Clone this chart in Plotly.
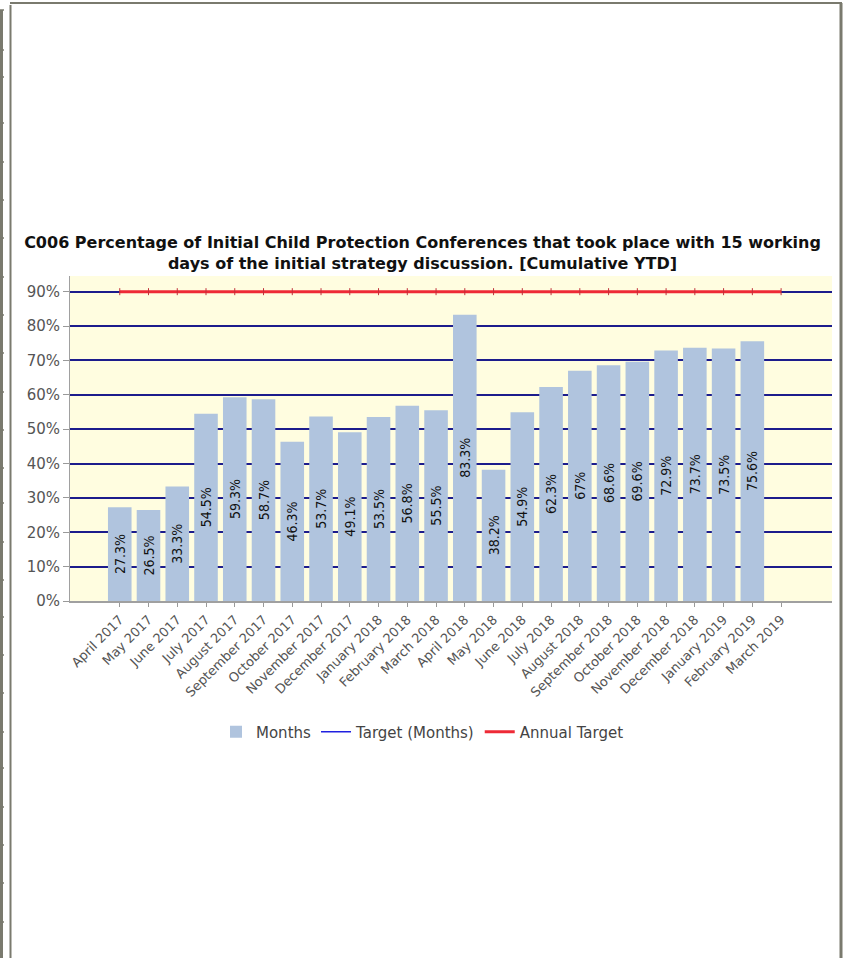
"""C006 initial child protection conferences chart."""

import plotly.graph_objects as go

months = [
    "April 2017", "May 2017", "June 2017", "July 2017", "August 2017",
    "September 2017", "October 2017", "November 2017", "December 2017",
    "January 2018", "February 2018", "March 2018", "April 2018", "May 2018",
    "June 2018", "July 2018", "August 2018", "September 2018", "October 2018",
    "November 2018", "December 2018", "January 2019", "February 2019", "March 2019",
]
monthly_values = [
    27.3, 26.5, 33.3, 54.5, 59.3, 58.7, 46.3, 53.7, 49.1, 53.5, 56.8, 55.5,
    83.3, 38.2, 54.9, 62.3, 67, 68.6, 69.6, 72.9, 73.7, 73.5, 75.6, None,
]
target_months = [90] * 24
annual_target = [90] * 24
y_ticks = [0, 10, 20, 30, 40, 50, 60, 70, 80, 90]

W, H = 845, 958
ML, MR, MT, MB = 70, 13, 276, 357
PW, PH = W - ML - MR, H - MT - MB
FONT = "DejaVu Sans"
FRAME = "#7a7a6e"


def px(x):
    return (x - ML) / PW


def py(y):
    return (H - MB - y) / PH


labels = [f"{v:g}%" if v is not None else "" for v in monthly_values]

fig = go.Figure()

fig.add_trace(go.Bar(
    name="Months",
    x=months,
    y=monthly_values,
    text=labels,
    textposition="inside",
    insidetextanchor="middle",
    textangle=-90,
    constraintext="none",
    textfont=dict(family="DejaVu Sans Condensed, DejaVu Sans", size=14, color="#111111"),
    marker=dict(color="#b0c4de", line=dict(width=0)),
    width=0.82,
    hoverinfo="x+y",
))

fig.add_trace(go.Scatter(
    name="Target (Months)",
    x=months,
    y=target_months,
    mode="lines",
    line=dict(color="#2020e0", width=1.5),
    hoverinfo="x+y",
))

fig.add_trace(go.Scatter(
    name="Annual Target",
    x=months,
    y=annual_target,
    mode="lines",
    line=dict(color="#ee2a36", width=3),
    hoverinfo="x+y",
))

# little tick marks along the annual target line
fig.add_trace(go.Scatter(
    x=months,
    y=annual_target,
    mode="markers",
    marker=dict(symbol="line-ns", size=5, line=dict(width=1, color="#c0303a")),
    showlegend=False,
    hoverinfo="skip",
))

# page frame around the chart
shapes = []
line = dict(color=FRAME, width=2)
shapes.append(dict(type="line", xref="paper", yref="paper",
                   x0=px(10), x1=px(842), y0=py(3), y1=py(3), line=line))
shapes.append(dict(type="line", xref="paper", yref="paper",
                   x0=px(841), x1=px(841), y0=py(3), y1=py(958), line=dict(color=FRAME, width=3)))
shapes.append(dict(type="line", xref="paper", yref="paper",
                   x0=px(10.5), x1=px(10.5), y0=py(5), y1=py(958), line=line))
shapes.append(dict(type="line", xref="paper", yref="paper",
                   x0=px(1.5), x1=px(1.5), y0=py(10), y1=py(958), line=dict(color=FRAME, width=3)))
for my in [10, 50, 77, 123, 162, 200, 238, 277, 315, 353, 392, 430, 468,
           503, 542, 580, 617, 655, 693, 732, 768, 807, 845, 883, 922]:
    shapes.append(dict(type="line", xref="paper", yref="paper",
                       x0=px(0), x1=px(4), y0=py(my), y1=py(my),
                       line=dict(color=FRAME, width=1.5)))

fig.update_layout(
    width=W,
    height=H,
    margin=dict(l=ML, r=MR, t=MT, b=MB),
    paper_bgcolor="white",
    plot_bgcolor="#fffde0",
    font=dict(family=FONT, size=15, color="#444444"),
    title=dict(
        text="C006 Percentage of Initial Child Protection Conferences that took place with 15 working"
             "<br>days of the initial strategy discussion. [Cumulative YTD]",
        font=dict(family=FONT, size=16, color="#111111", weight="bold"),
        xref="container", x=0.5, xanchor="center",
        yref="container", y=1 - 248 / H, yanchor="middle",
    ),
    xaxis=dict(
        type="category",
        range=[-1.73, 24.77],
        tickangle=-45,
        tickfont=dict(family=FONT, size=13, color="#555555"),
        ticks="outside", ticklen=4, tickcolor="#999999",
        showline=True, linecolor="#a0a0a0", linewidth=2,
        showgrid=False,
    ),
    yaxis=dict(
        range=[0, 94.56],
        tickvals=y_ticks,
        ticktext=[f"{t}%" for t in y_ticks],
        tickfont=dict(family=FONT, size=15, color="#555555"),
        ticks="outside", ticklen=6, tickcolor="#999999",
        showline=True, linecolor="#a0a0a0", linewidth=1,
        showgrid=True, gridcolor="#1c1c8c", gridwidth=2,
        zeroline=False,
    ),
    legend=dict(
        orientation="h",
        xref="container", x=0.5, xanchor="center",
        yref="container", y=1 - 732 / H, yanchor="middle",
        font=dict(family=FONT, size=15, color="#444444"),
        itemwidth=30,
    ),
    shapes=shapes,
    showlegend=True,
)

fig.write_html(
    "out.html",
    config={"displayModeBar": False},
    post_script="document.body.style.margin='0';",
)
